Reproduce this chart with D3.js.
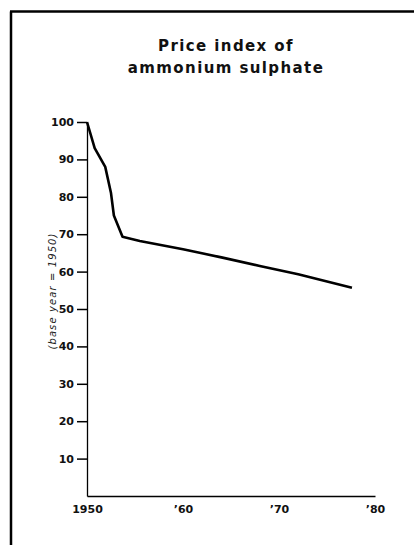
<!DOCTYPE html>
<html>
<head>
<meta charset="utf-8">
<script src="https://cdn.jsdelivr.net/npm/d3@7"></script>
<style>
  body { margin: 0; background: #fff; }
  svg { display: block; }
</style>
</head>
<body>
<svg></svg>
<script>
// values
var years  = [1950, 1950.8, 1951.9, 1952.5, 1952.8, 1953.7, 1955.5, 1960, 1964, 1968, 1972, 1977.6];
var prices = [100, 93, 88, 81, 75, 69.3, 68.2, 66.0, 63.8, 61.5, 59.3, 55.7];
var yTicks = [10, 20, 30, 40, 50, 60, 70, 80, 90, 100];
var xTicks = [1950, 1960, 1970, 1980];
var xTickLabels = ["1950", "\u201960", "\u201970", "\u201980"];

var svgWidth = 414, svgHeight = 545;

var svg = d3.select("svg")
    .attr("width", svgWidth)
    .attr("height", svgHeight);

// frame (left + top rule only)
svg.append("line")
  .attr("x1", 11).attr("y1", 11.5).attr("x2", 11).attr("y2", svgHeight)
  .attr("stroke", "#000").attr("stroke-width", 2.5);
svg.append("line")
  .attr("x1", 10).attr("y1", 11.5).attr("x2", svgWidth).attr("y2", 11.5)
  .attr("stroke", "#000").attr("stroke-width", 2.5);

// title
var title = svg.append("text")
  .attr("text-anchor", "middle")
  .attr("font-family", "DejaVu Sans")
  .attr("font-weight", "bold")
  .attr("font-size", 15)
  .attr("letter-spacing", 1.4)
  .attr("fill", "#111");
title.append("tspan").attr("x", 226).attr("y", 51).text("Price index of");
title.append("tspan").attr("x", 226).attr("y", 73).text("ammonium sulphate");

var xScale = d3.scaleLinear()
    .domain([1950, 1980])
    .range([87, 375]);

var yScale = d3.scaleLinear()
    .domain([0, 100])
    .range([496, 122]);

// y axis
var yAxis = svg.append("g")
  .attr("transform", "translate(87,0)")
  .call(d3.axisLeft(yScale).tickValues(yTicks).tickSize(10).tickSizeOuter(0).tickPadding(3));
yAxis.select(".domain").attr("stroke-width", 1.3);
yAxis.selectAll(".tick line").attr("stroke-width", 1.5);
yAxis.selectAll("text")
  .attr("font-family", "DejaVu Sans")
  .attr("font-weight", "bold")
  .attr("font-size", 11)
  .attr("fill", "#111");

// x axis
var xAxis = svg.append("g")
  .attr("transform", "translate(0,496)")
  .call(d3.axisBottom(xScale).tickValues(xTicks)
    .tickFormat((d, i) => xTickLabels[i])
    .tickSize(0).tickPadding(9));
xAxis.select(".domain").attr("stroke-width", 1.5);
xAxis.selectAll("text")
  .attr("font-family", "DejaVu Sans")
  .attr("font-weight", "bold")
  .attr("font-size", 11)
  .attr("fill", "#111");

// y axis title
svg.append("text")
  .attr("transform", "translate(56,291) rotate(-90)")
  .attr("text-anchor", "middle")
  .attr("font-family", "DejaVu Sans")
  .attr("font-style", "italic")
  .attr("font-size", 10)
  .attr("letter-spacing", 1.1)
  .attr("fill", "#222")
  .text("(base year = 1950)");

// price line
var line = d3.line()
  .x((d, i) => xScale(years[i]))
  .y((d) => yScale(d));

svg.append("path")
  .datum(prices)
  .attr("d", line)
  .attr("fill", "none")
  .attr("stroke", "#000")
  .attr("stroke-width", 2.6)
  .attr("stroke-linejoin", "round");
</script>
</body>
</html>
